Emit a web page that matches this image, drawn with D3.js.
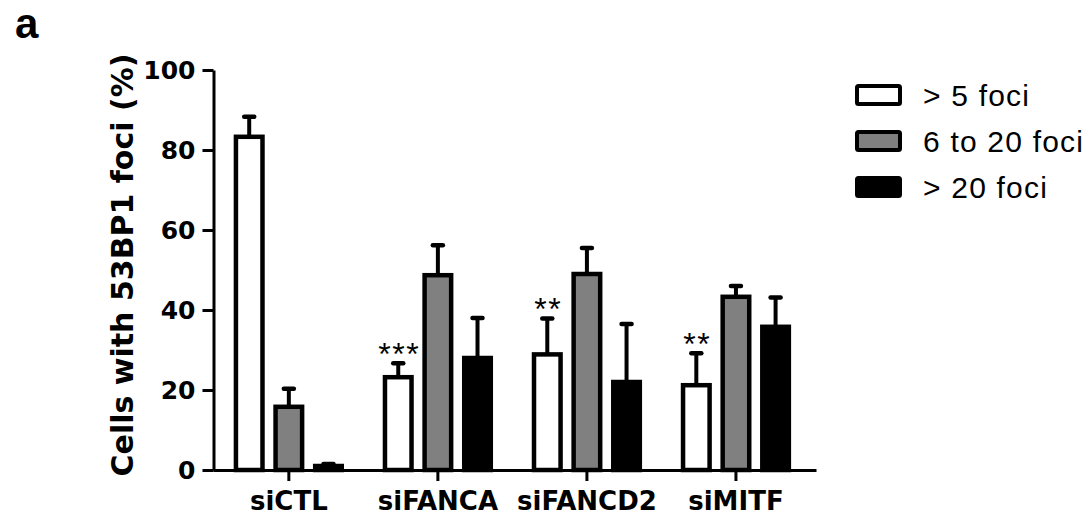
<!DOCTYPE html>
<html>
<head>
<meta charset="utf-8">
<script src="https://cdn.jsdelivr.net/npm/d3@7"></script>
<style>
  body { margin: 0; background: #fff; }
  svg { display: block; }
</style>
</head>
<body>
<div id="chart"></div>
<script>
// groups along x and the three foci classes
const groups = ["siCTL", "siFANCA", "siFANCD2", "siMITF"];
const series = ["> 5 foci", "6 to 20 foci", "> 20 foci"];
const fills = ["#ffffff", "#808080", "#000000"];

// mean values per group (order = series)
const lowFoci  = [83.3, 23.2, 28.9, 21.2];
const midFoci  = [15.8, 48.7, 49.0, 43.3];
const highFoci = [1.0, 28.0, 22.0, 35.8];

// upper error (SD) per group
const lowErr  = [5.0, 3.5, 9.0, 8.0];
const midErr  = [4.5, 7.5, 6.5, 2.7];
const highErr = [0.5, 10.0, 14.5, 7.3];

// significance marks over the "> 5 foci" bars
const stars = ["", "***", "**", "**"];

const yTicks = [0, 20, 40, 60, 80, 100];

const W = 1090, H = 518;

let svg = d3.select("#chart").append("svg")
    .attr("width", W)
    .attr("height", H);

let values = [lowFoci, midFoci, highFoci];
let errs = [lowErr, midErr, highErr];

let data = [];
groups.forEach((g, i) => {
    series.forEach((s, j) => {
        data.push({group: g, series: s, idx: j, value: values[j][i], err: errs[j][i]});
    });
});

let yScale = d3.scaleLinear()
    .domain([0, 100])
    .range([470, 70]);

let xScale = d3.scaleBand()
    .domain(groups)
    .range([213, 816])
    .paddingInner(0.29)
    .paddingOuter(0.168)
    .align(0.458);

let xSub = d3.scaleBand()
    .domain(series)
    .range([0, xScale.bandwidth()])
    .paddingInner(0.33);

let colorScale = d3.scaleOrdinal().domain(series).range(fills);

// y axis
let yAxis = d3.axisLeft(yScale)
    .tickValues(yTicks)
    .tickSize(11)
    .tickSizeOuter(0)
    .tickPadding(7);

let gy = svg.append("g")
    .attr("transform", "translate(213.5,0)")
    .call(yAxis);
gy.select(".domain").attr("stroke-width", 3);
gy.selectAll(".tick line").attr("stroke-width", 3);
gy.selectAll(".tick text")
    .attr("font-family", "DejaVu Sans")
    .attr("font-weight", "bold")
    .attr("font-size", 25)
    .attr("fill", "#000");

// x axis
let xAxis = d3.axisBottom(xScale)
    .tickSize(11)
    .tickSizeOuter(0);

let gx = svg.append("g")
    .attr("transform", "translate(0,470)")
    .call(xAxis);
gx.select(".domain").attr("stroke-width", 3);
gx.selectAll(".tick line").attr("stroke-width", 3);
gx.selectAll(".tick text")
    .attr("y", 40)
    .attr("dy", 0)
    .attr("font-family", "DejaVu Sans")
    .attr("font-weight", "bold")
    .attr("font-size", 26)
    .attr("fill", "#000");

// y title
svg.append("text")
    .attr("transform", "translate(133,265) rotate(-90)")
    .attr("text-anchor", "middle")
    .attr("font-family", "DejaVu Sans")
    .attr("font-weight", "bold")
    .attr("font-size", 30)
    .text("Cells with 53BP1 foci (%)");

// panel letter
svg.append("text")
    .attr("x", 15)
    .attr("y", 38)
    .attr("font-family", "Liberation Sans")
    .attr("font-weight", "bold")
    .attr("font-size", 42)
    .text("a");

let bars = svg.append("g");

// error bars (upper only)
let eb = bars.selectAll(".err").data(data).enter().append("g");
eb.append("line")
    .attr("x1", d => xScale(d.group) + xSub(d.series) + xSub.bandwidth() / 2)
    .attr("x2", d => xScale(d.group) + xSub(d.series) + xSub.bandwidth() / 2)
    .attr("y1", d => yScale(d.value))
    .attr("y2", d => yScale(d.value + d.err))
    .attr("stroke", "#000")
    .attr("stroke-width", 4);
eb.append("line")
    .attr("x1", d => xScale(d.group) + xSub(d.series) + xSub.bandwidth() / 2 - 5)
    .attr("x2", d => xScale(d.group) + xSub(d.series) + xSub.bandwidth() / 2 + 5)
    .attr("y1", d => yScale(d.value + d.err))
    .attr("y2", d => yScale(d.value + d.err))
    .attr("stroke", "#000")
    .attr("stroke-width", 4.5)
    .attr("stroke-linecap", "round");

bars.selectAll("rect").data(data).enter()
    .append("rect")
    .attr("x", d => xScale(d.group) + xSub(d.series))
    .attr("y", d => yScale(d.value))
    .attr("width", xSub.bandwidth())
    .attr("height", d => yScale(0) - yScale(d.value))
    .attr("fill", d => colorScale(d.series))
    .attr("stroke", "#000")
    .attr("stroke-width", 4.5);

// stars
svg.append("g").selectAll("text")
    .data(groups.map((g, i) => ({group: g, s: stars[i], top: lowFoci[i] + lowErr[i]})))
    .enter()
    .append("text")
    .attr("x", d => xScale(d.group) + xSub(series[0]) + xSub.bandwidth() / 2 + 1)
    .attr("y", d => yScale(d.top) + 2)
    .attr("text-anchor", "middle")
    .attr("font-family", "Liberation Sans")
    .attr("font-size", 32)
    .attr("letter-spacing", 1.5)
    .text(d => d.s);

// legend
let legend = svg.append("g").selectAll("g")
    .data(series)
    .enter()
    .append("g")
    .attr("transform", (d, i) => "translate(857," + (95 + i * 46) + ")");
legend.append("rect")
    .attr("x", 0)
    .attr("y", -9)
    .attr("width", 43)
    .attr("height", 18)
    .attr("fill", d => colorScale(d))
    .attr("stroke", "#000")
    .attr("stroke-width", 4)
    .attr("rx", 1.5);
legend.append("text")
    .attr("x", 66)
    .attr("y", 11)
    .attr("font-family", "Liberation Sans")
    .attr("font-size", 30)
    .attr("letter-spacing", 1.2)
    .text(d => d);
</script>
</body>
</html>
